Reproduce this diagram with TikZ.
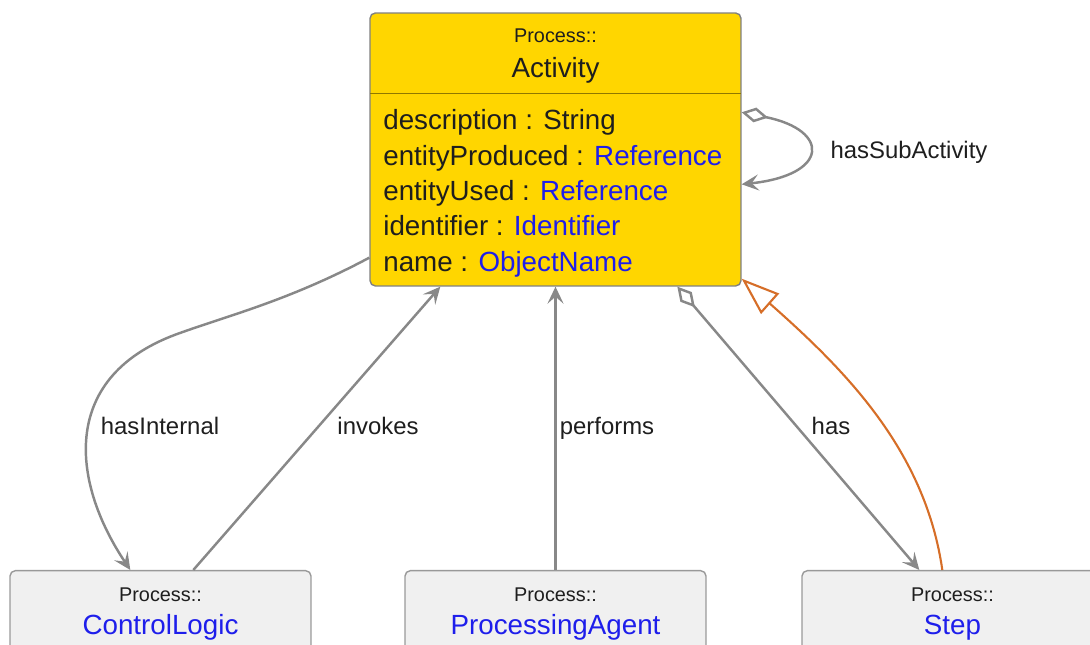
\documentclass[tikz,border=0pt]{standalone}
\usepackage{fontspec}
\setmainfont{Liberation Sans}
\usetikzlibrary{arrows.meta,positioning,calc}
\definecolor{gold}{RGB}{255,214,0}
\definecolor{typeblue}{RGB}{30,30,235}
\definecolor{linkgray}{RGB}{136,136,136}
\definecolor{genorange}{RGB}{214,110,40}
\definecolor{boxgray}{RGB}{240,240,240}
\definecolor{txt}{RGB}{30,30,30}
\newcommand{\pkgfont}{\fontsize{11.3}{13}\selectfont}
\newcommand{\attrfont}{\fontsize{15.8}{19}\selectfont}
\newcommand{\lblfont}{\fontsize{13.6}{16}\selectfont}
\tikzset{
  cls/.style={draw=black!50,rounded corners=3pt,line width=0.8pt,inner sep=0pt},
  mainbox/.style={cls,fill=gold,minimum width=7.42cm,minimum height=5.46cm},
  sidebox/.style={cls,fill=boxgray,draw=black!40,minimum width=6.02cm,minimum height=2cm,anchor=north},
  pkg/.style={anchor=base,text=txt,font=\pkgfont},
  cname/.style={anchor=base,font=\attrfont},
  lbl/.style={anchor=base,text=txt,font=\lblfont},
  link/.style={-{Stealth[length=3.4mm,width=3.2mm,inset=1.4mm]},linkgray,line width=1.4pt},
  agg/.style={{Diamond[open,fill=white,length=5.4mm,width=3mm]}-{Stealth[length=3.4mm,width=3.2mm,inset=1.4mm]},linkgray,line width=1.4pt},
  gen/.style={-{Triangle[open,fill=white,length=7.6mm,width=5.4mm]},genorange,line width=1.2pt}
}

\begin{document}
\begin{tikzpicture}[x=0.02cm,y=0.02cm]
  \useasboundingbox (0,0) rectangle (1090,645);
  \clip (0,0) rectangle (1090,645);
  % Activity class
  \node[mainbox] (act) at (555.5,495.5) {};
  \draw[black!30!gold!80!black,line width=0.9pt] ($(act.north west)+(1,-81)$) -- ($(act.north east)+(-1,-81)$);
  \node[pkg] (actpkg) at (555.5,602) {Process::};
  \node[cname,text=txt] (actname) at (555.5,567) {Activity};
  \foreach \attr/\typ/\clr [count=\k] in {description/String/txt,entityProduced/Reference/typeblue,entityUsed/Reference/typeblue,identifier/Identifier/typeblue,name/ObjectName/typeblue}
    \node[cname,anchor=base west,text=txt,inner sep=0pt] (attr\k) at (383,515-35.3*\k+35.3) {\attr{} : \textcolor{\clr}{\typ}};
  % the three related classes
  \node[sidebox] (cl) at (160.5,75) {};
  \node[pkg] (clpkg) at (160.5,43) {Process::};
  \node[cname,text=typeblue] (clname) at (160.5,10) {ControlLogic};
  \node[sidebox] (pa) at (555.5,75) {};
  \node[pkg] (papkg) at (555.5,43) {Process::};
  \node[cname,text=typeblue] (paname) at (555.5,10) {ProcessingAgent};
  \node[sidebox] (step) at (952.5,75) {};
  \node[pkg] (steppkg) at (952.5,43) {Process::};
  \node[cname,text=typeblue] (stepname) at (952.5,10) {Step};
  % attachment points
  \coordinate (subOut) at ($(act.north east)+(0,-100)$);
  \coordinate (subIn) at ($(act.north east)+(0,-172)$);
  \coordinate (intOut) at ($(act.south west)+(0,29)$);
  \coordinate (intIn) at ($(cl.north west)+(121,0)$);
  \coordinate (invOut) at ($(cl.north west)+(184,0)$);
  \coordinate (invIn) at ($(act.south west)+(71,0)$);
  \coordinate (hasOut) at ($(act.south west)+(308,0)$);
  \coordinate (hasIn) at ($(step.north west)+(118,0)$);
  \coordinate (genOut) at ($(step.north west)+(141,0)$);
  \coordinate (genIn) at ($(act.south east)+(0,8)$);
  % hasSubActivity (self loop)
  \draw[agg] (subOut) .. controls (830,515) and (830,470) .. (subIn);
  \node[lbl] (lsub) at (909,486) {hasSubActivity};
  % hasInternal
  \draw[link] (intOut) .. controls (290,345) and (230,330) .. (180,312)
              .. controls (60,270) and (70,165) .. (intIn);
  \node[lbl] (lint) at (160,210) {hasInternal};
  % invokes, performs
  \draw[link] (invOut) -- (invIn);
  \node[lbl] (linv) at (378,210) {invokes};
  \draw[link] (pa.north) -- (act.south);
  \node[lbl] (lperf) at (607,210) {performs};
  % has
  \draw[agg] (hasOut) -- (hasIn);
  \node[lbl] (lhas) at (831,210) {has};
  % Step is an Activity
  \draw[gen] (genOut) .. controls (925,195) and (845,275) .. (genIn);
\end{tikzpicture}
\end{document}
